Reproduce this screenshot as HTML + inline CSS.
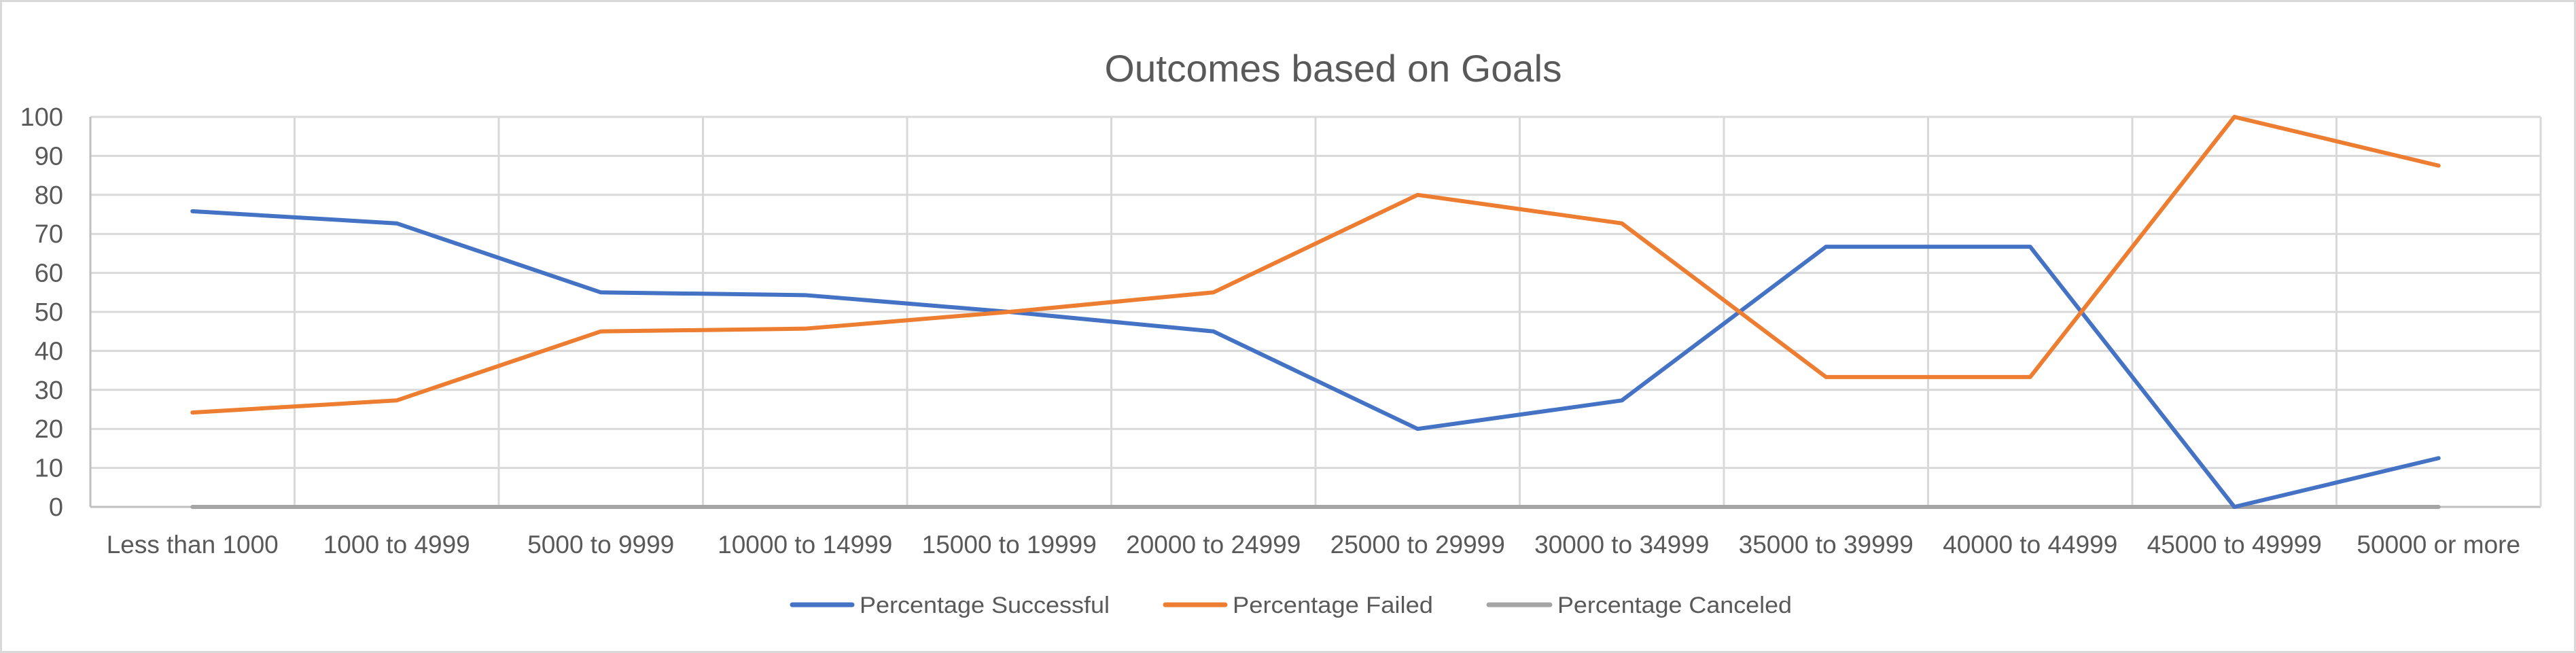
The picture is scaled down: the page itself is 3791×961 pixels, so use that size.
<!DOCTYPE html>
<html><head><meta charset="utf-8"><style>
html,body{margin:0;padding:0;background:#fff}
svg{display:block;font-family:"Liberation Sans",sans-serif}
</style></head><body>
<svg id="chart" width="3791" height="961" viewBox="0 0 3791 961">
<rect x="1.5" y="1.5" width="3788" height="958" fill="#fff" stroke="#d9d9d9" stroke-width="3"/>
<text x="1962" y="120" text-anchor="middle" font-size="56" fill="#595959" textLength="673" lengthAdjust="spacingAndGlyphs">Outcomes based on Goals</text>
<g id="grid"></g><g id="series"></g><g id="labels"></g>
<g>
<g><line x1="1166" y1="890" x2="1254" y2="890" stroke="#4472c4" stroke-width="7" stroke-linecap="round"/><text x="1265" y="902" font-size="34" fill="#595959" textLength="368" lengthAdjust="spacingAndGlyphs">Percentage Successful</text></g>
<g><line x1="1715" y1="890" x2="1803" y2="890" stroke="#ed7d31" stroke-width="7" stroke-linecap="round"/><text x="1814" y="902" font-size="34" fill="#595959" textLength="295" lengthAdjust="spacingAndGlyphs">Percentage Failed</text></g>
<g><line x1="2191" y1="890" x2="2281" y2="890" stroke="#a5a5a5" stroke-width="7" stroke-linecap="round"/><text x="2292" y="902" font-size="34" fill="#595959" textLength="345" lengthAdjust="spacingAndGlyphs">Percentage Canceled</text></g>
</g>
</svg>
<script>
const categories = ["Less than 1000","1000 to 4999","5000 to 9999","10000 to 14999","15000 to 19999","20000 to 24999","25000 to 29999","30000 to 34999","35000 to 39999","40000 to 44999","45000 to 49999","50000 or more"];
const successful = [75.8, 72.7, 55.0, 54.3, 50.0, 45.0, 20.0, 27.3, 66.7, 66.7, 0, 12.5];
const failed = [24.2, 27.3, 45.0, 45.7, 50.0, 55.0, 80.0, 72.7, 33.3, 33.3, 100, 87.5];
const canceled = [0,0,0,0,0,0,0,0,0,0,0,0];
const yTicks = [0,10,20,30,40,50,60,70,80,90,100];

const NS="http://www.w3.org/2000/svg";
const L=133,R=3739,T=172,B=746,yMax=100;
const bw=(R-L)/categories.length;
const xs=i=>L+bw*(i+0.5);
const ys=v=>B-(v/yMax)*(B-T);
function mk(tag,attrs,parent){const e=document.createElementNS(NS,tag);for(const k in attrs)e.setAttribute(k,attrs[k]);parent.appendChild(e);return e;}
const grid=document.getElementById('grid'),ser=document.getElementById('series'),lab=document.getElementById('labels');
yTicks.forEach(t=>{
  const ln=mk('line',{x1:L,x2:R,y1:ys(t),y2:ys(t),stroke:t===0?'#bfbfbf':'#d9d9d9','stroke-width':3},grid);
  
  
  const tx=mk('text',{x:93,y:ys(t)+13,'text-anchor':'end','font-size':38,fill:'#595959'},lab);
  tx.textContent=t;
  
  
});
for(let i=0;i<=categories.length;i++){
  const x=L+bw*i;
  const ln=mk('line',{x1:x,x2:x,y1:T,y2:B,stroke:i===0?'#bfbfbf':'#d9d9d9','stroke-width':3},grid);
  
  
}
categories.forEach((c,i)=>{
  const tx=mk('text',{x:xs(i),y:814,'text-anchor':'middle','font-size':37,fill:'#595959'},lab);
  tx.textContent=c;
  
  
});
[[canceled,'#a5a5a5','series-canceled'],[successful,'#4472c4','series-successful'],[failed,'#ed7d31','series-failed']].forEach(([d,col,name])=>{
  const p=mk('polyline',{points:d.map((v,i)=>xs(i)+','+ys(v)).join(' '),fill:'none',stroke:col,'stroke-width':6,'stroke-linecap':'round','stroke-linejoin':'round'},ser);
  
  
});
</script>
</body></html>
